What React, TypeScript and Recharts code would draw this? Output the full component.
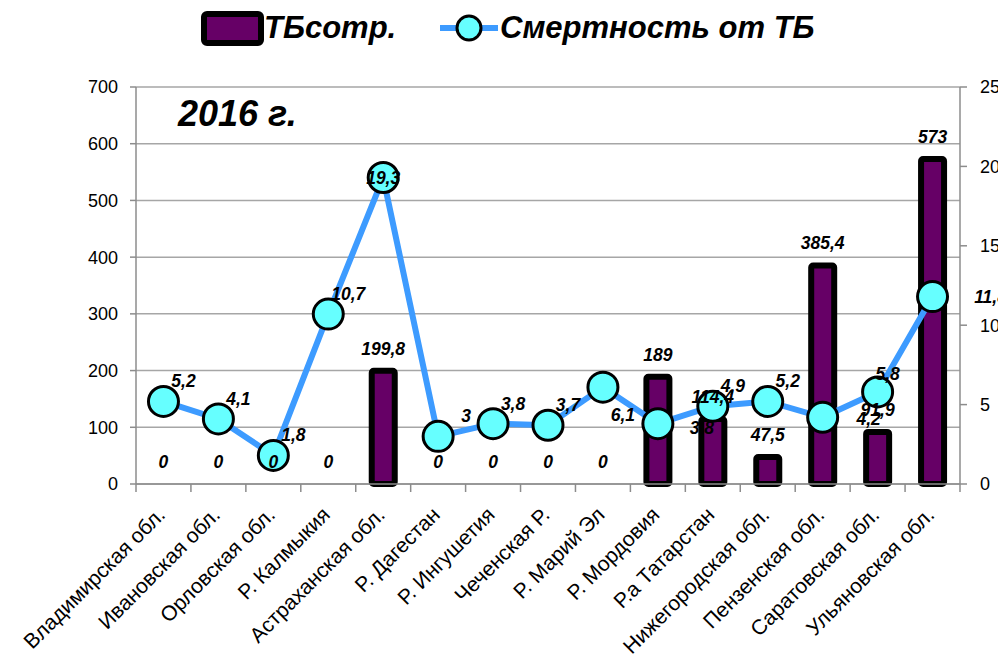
import {
  Bar,
  ComposedChart,
  LabelList,
  Line,
  XAxis,
  YAxis,
  CartesianGrid,
} from "recharts";

const regions = [
  "Владимирская обл.",
  "Ивановская обл.",
  "Орловская обл.",
  "Р. Калмыкия",
  "Астраханская обл.",
  "Р. Дагестан",
  "Р. Ингушетия",
  "Чеченская Р.",
  "Р. Марий Эл",
  "Р. Мордовия",
  "Р.а Татарстан",
  "Нижегородская обл.",
  "Пензенская обл.",
  "Саратовская обл.",
  "Ульяновская обл.",
];

const tbValues = [0, 0, 0, 0, 199.8, 0, 0, 0, 0, 189, 114.4, 47.5, 385.4, 91.9, 573];
const deathValues = [5.2, 4.1, 1.8, 10.7, 19.3, 3, 3.8, 3.7, 6.1, 3.8, 4.9, 5.2, 4.2, 5.8, 11.8];

const leftTicks = [0, 100, 200, 300, 400, 500, 600, 700];
const rightTicks = [0, 5, 10, 15, 20, 25];

const data = regions.map((name, i) => ({
  name,
  tb: tbValues[i],
  death: deathValues[i],
}));

const PLOT_LEFT = 136;
const PLOT_RIGHT = 960;
const PLOT_TOP = 87;
const PLOT_BOTTOM = 484;
const CHART_W = 1040;
const CHART_H = 666;
const BAND = (PLOT_RIGHT - PLOT_LEFT) / regions.length;

const AXIS_GRAY = "#8c8c8c";
const LABEL_FONT = "'Liberation Sans', Arial, sans-serif";

// label nudges for the line, roughly as placed in the original
const lineLabelShift: Record<number, [number, number]> = {
  4: [0, 0],
  5: [28, -20],
  8: [20, 28],
  9: [44, 4],
  12: [46, 2],
  13: [10, -18],
  14: [58, 0],
};

const fmt = (v: number) => String(v).replace(".", ",");

const labelStyle = {
  fontFamily: LABEL_FONT,
  fontWeight: "bold",
  fontStyle: "italic",
  fontSize: 17.5,
  fill: "#000",
};

function RegionTick(props: any) {
  const { x, payload, index } = props;
  const last = index === regions.length - 1;
  return (
    <g>
      <line x1={x - BAND / 2} x2={x - BAND / 2} y1={PLOT_BOTTOM} y2={PLOT_BOTTOM + 8} stroke={AXIS_GRAY} strokeWidth={1.5} />
      {last && (
        <line x1={x + BAND / 2} x2={x + BAND / 2} y1={PLOT_BOTTOM} y2={PLOT_BOTTOM + 8} stroke={AXIS_GRAY} strokeWidth={1.5} />
      )}
      <text
        transform={`translate(${x + 3},${PLOT_BOTTOM + 32}) rotate(-45)`}
        textAnchor="end"
        fontFamily={LABEL_FONT}
        fontSize={21}
        fill="#000"
      >
        {payload.value}
      </text>
    </g>
  );
}

function DeathLabel(props: any) {
  const { x, y, value, index } = props;
  const [dx, dy] = lineLabelShift[index] ?? [20, -20];
  return (
    <text x={x + dx} y={y + dy} textAnchor="middle" dominantBaseline="central" style={labelStyle}>
      {fmt(value)}
    </text>
  );
}

function TbLabel(props: any) {
  const { x, y, value } = props;
  return (
    <text x={x} y={y - 16} textAnchor="middle" style={labelStyle}>
      {fmt(value)}
    </text>
  );
}

function TopLegend() {
  const text = {
    fontFamily: LABEL_FONT,
    fontWeight: "bold" as const,
    fontStyle: "italic" as const,
    fontSize: 31,
    color: "#000",
    position: "absolute" as const,
    top: 10,
    lineHeight: "36px",
    whiteSpace: "nowrap" as const,
  };
  return (
    <>
      <svg style={{ position: "absolute", left: 200, top: 10 }} width={310} height={40}>
        <rect x={4} y={4} width={57} height={29} rx={3} fill="#660066" stroke="#000" strokeWidth={6} />
        <line x1={240} x2={298} y1={18} y2={18} stroke="#3d9bff" strokeWidth={6} />
        <circle cx={269} cy={18} r={12} fill="#66ffff" stroke="#000" strokeWidth={3} />
      </svg>
      <div style={{ ...text, left: 264 }}>ТБсотр.</div>
      <div style={{ ...text, left: 500 }}>Смертность от ТБ</div>
    </>
  );
}

export default function App() {
  return (
    <div
      style={{
        position: "fixed",
        left: 0,
        top: 0,
        width: 998,
        height: 666,
        overflow: "hidden",
        background: "#fff",
      }}
    >
      <TopLegend />
      <div
        style={{
          position: "absolute",
          left: 178,
          top: 92,
          fontFamily: LABEL_FONT,
          fontWeight: "bold",
          fontStyle: "italic",
          fontSize: 36,
          lineHeight: "44px",
          zIndex: 2,
        }}
      >
        2016 г.
      </div>
      <ComposedChart
        width={CHART_W}
        height={CHART_H}
        data={data}
        margin={{ top: PLOT_TOP, right: 0, bottom: 0, left: 0 }}
        barCategoryGap={0}
      >
        <CartesianGrid vertical={false} stroke="#a6a6a6" strokeWidth={1.5} yAxisId="left" />
        <XAxis
          dataKey="name"
          interval={0}
          height={CHART_H - PLOT_BOTTOM}
          tickLine={false}
          tickSize={0}
          tickMargin={0}
          stroke={AXIS_GRAY}
          strokeWidth={1.5}
          tick={<RegionTick />}
        />
        <YAxis
          yAxisId="left"
          domain={[0, 700]}
          ticks={leftTicks}
          width={PLOT_LEFT}
          tickSize={6}
          tickMargin={12}
          stroke={AXIS_GRAY}
          strokeWidth={1.5}
          tick={{ fill: "#000", fontFamily: LABEL_FONT, fontSize: 18 }}
        />
        <YAxis
          yAxisId="right"
          orientation="right"
          domain={[0, 25]}
          ticks={rightTicks}
          width={CHART_W - PLOT_RIGHT}
          tickSize={7}
          tickMargin={13}
          stroke={AXIS_GRAY}
          strokeWidth={1.5}
          tick={{ fill: "#000", fontFamily: LABEL_FONT, fontSize: 18 }}
        />
        <Bar
          yAxisId="left"
          dataKey="tb"
          barSize={23}
          fill="#660066"
          stroke="#000"
          strokeWidth={6}
          radius={2}
          isAnimationActive={false}
        />
        <Line
          yAxisId="right"
          dataKey="death"
          stroke="#3d9bff"
          strokeWidth={6}
          dot={{ r: 15, fill: "#66ffff", stroke: "#000", strokeWidth: 3 }}
          activeDot={false}
          isAnimationActive={false}
        >
          <LabelList dataKey="death" content={<DeathLabel />} />
        </Line>
        {/* carrier for the bar value labels, so zero bars get their "0" too */}
        <Line
          yAxisId="left"
          dataKey="tb"
          stroke="none"
          dot={false}
          activeDot={false}
          legendType="none"
          isAnimationActive={false}
        >
          <LabelList dataKey="tb" content={<TbLabel />} />
        </Line>
      </ComposedChart>
    </div>
  );
}
